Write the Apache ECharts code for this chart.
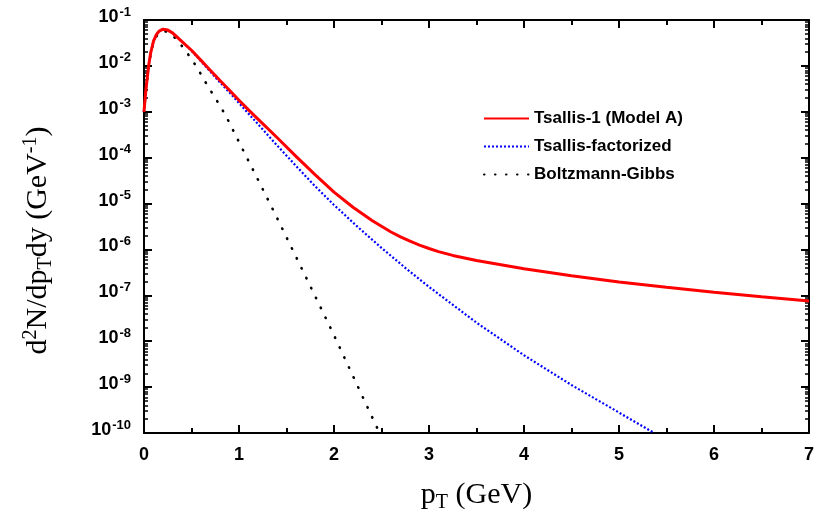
<!DOCTYPE html>
<html>
<head>
<meta charset="utf-8">
<script src="https://cdn.jsdelivr.net/npm/echarts@6/dist/echarts.min.js"></script>
<style>
html,body{margin:0;padding:0;background:#fff;}
#main{width:817px;height:520px;}
</style>
</head>
<body>
<div id="main"></div>
<script>
// pT (GeV) and d2N/dpTdy values
var ptRed = [0, 0.01, 0.02, 0.03, 0.05, 0.07, 0.1, 0.13, 0.16, 0.2, 0.25, 0.3, 0.4, 0.5, 0.6, 0.7, 0.8, 0.9, 1.0, 1.1, 1.2, 1.4, 1.6, 1.8, 2.0, 2.2, 2.4, 2.6, 2.7, 2.8, 2.9, 3.0, 3.1, 3.25, 3.5, 4.0, 4.5, 5.0, 5.5, 6.0, 6.5, 7.0];
var tsallis1 = [1.0e-3, 1.78e-3, 3.02e-3, 4.57e-3, 1.05e-2, 1.91e-2, 3.47e-2, 4.79e-2, 5.75e-2, 6.31e-2, 6.03e-2, 5.25e-2, 3.39e-2, 2.19e-2, 1.32e-2, 7.94e-3, 4.79e-3, 2.95e-3, 1.78e-3, 1.10e-3, 6.92e-4, 2.75e-4, 1.07e-4, 4.27e-5, 1.78e-5, 8.32e-6, 4.27e-6, 2.40e-6, 1.88e-6, 1.51e-6, 1.24e-6, 1.05e-6, 8.97e-7, 7.41e-7, 5.75e-7, 3.80e-7, 2.66e-7, 1.95e-7, 1.50e-7, 1.17e-7, 9.33e-8, 7.50e-8];

var ptBlue = [0, 0.01, 0.02, 0.03, 0.05, 0.07, 0.1, 0.13, 0.16, 0.2, 0.25, 0.3, 0.4, 0.5, 0.6, 0.7, 0.8, 0.9, 1.0, 1.2, 1.4, 1.6, 1.8, 2.0, 2.25, 2.5, 2.75, 3.0, 3.5, 4.0, 4.5, 5.0, 5.37];
var tsallisFact = [1.0e-3, 1.78e-3, 3.02e-3, 4.57e-3, 1.05e-2, 1.91e-2, 3.47e-2, 4.79e-2, 5.75e-2, 6.31e-2, 6.03e-2, 5.25e-2, 3.39e-2, 2.14e-2, 1.26e-2, 7.41e-3, 4.37e-3, 2.63e-3, 1.55e-3, 5.37e-4, 1.86e-4, 6.61e-5, 2.40e-5, 9.33e-6, 3.09e-6, 1.08e-6, 3.98e-7, 1.53e-7, 2.54e-8, 4.95e-9, 1.11e-9, 2.79e-10, 1.0e-10];

var ptBlack = [0, 0.01, 0.02, 0.03, 0.05, 0.07, 0.1, 0.13, 0.16, 0.2, 0.25, 0.3, 0.37, 0.44, 0.5, 0.56, 0.62, 0.68, 0.75, 0.86, 1.0, 1.2, 1.4, 1.6, 1.8, 2.0, 2.2, 2.4, 2.48];
var boltzmann = [1.0e-3, 1.70e-3, 2.82e-3, 4.27e-3, 9.77e-3, 1.78e-2, 3.16e-2, 4.37e-2, 5.25e-2, 5.75e-2, 5.50e-2, 4.68e-2, 3.24e-2, 2.09e-2, 1.41e-2, 9.12e-3, 5.50e-3, 3.39e-3, 2.00e-3, 8.32e-4, 2.19e-4, 3.31e-5, 4.90e-6, 6.92e-7, 9.77e-8, 1.35e-8, 1.74e-9, 2.24e-10, 1.0e-10];

var names = ['Tsallis-1 (Model A)', 'Tsallis-factorized', 'Boltzmann-Gibbs'];

function pairs(xs, ys) {
    return xs.map(function (x, i) { return [x, ys[i]]; });
}

var chart = echarts.init(document.getElementById('main'));

var tickLabel = { fontFamily: 'Liberation Sans', fontWeight: 'bold', fontSize: 18, color: '#000' };
var frameLine = { show: true, onZero: false, lineStyle: { color: '#000', width: 2 } };
var serif = { fontFamily: 'Liberation Serif', color: '#000' };

var option = {
    animation: false,
    backgroundColor: '#fff',
    grid: { left: 144, right: 6, top: 20, bottom: 87 },
    legend: {
        data: names,
        orient: 'vertical',
        left: 483,
        top: 110,
        padding: 0,
        itemWidth: 45,
        itemHeight: 14,
        itemGap: 11,
        itemStyle: { opacity: 0 },
        textStyle: { fontFamily: 'Liberation Sans', fontWeight: 'bold', fontSize: 17, color: '#000' }
    },
    xAxis: [
        {
            type: 'value', min: 0, max: 7, interval: 1,
            name: '{a|p}{sub|T}{a| (GeV)}',
            nameLocation: 'middle', nameGap: 44,
            nameTextStyle: {
                rich: {
                    a: Object.assign({ fontSize: 30 }, serif),
                    sub: Object.assign({ fontSize: 20, padding: [16, 0, 0, 0] }, serif)
                }
            },
            axisLine: frameLine,
            axisTick: { inside: true, length: 8, lineStyle: { width: 2, color: '#000' } },
            minorTick: { show: true, splitNumber: 2, length: 5, lineStyle: { width: 2, color: '#000' } },
            axisLabel: Object.assign({ margin: 13 }, tickLabel),
            splitLine: { show: false }
        },
        {
            type: 'value', min: 0, max: 7, interval: 1, position: 'top',
            axisLine: frameLine,
            axisTick: { inside: true, length: 8, lineStyle: { width: 2, color: '#000' } },
            minorTick: { show: true, splitNumber: 2, length: 5, lineStyle: { width: 2, color: '#000' } },
            axisLabel: { show: false },
            splitLine: { show: false }
        }
    ],
    yAxis: [
        {
            type: 'log', logBase: 10, min: 1e-10, max: 1e-1, splitNumber: 9,
            name: '{a|d}{sup|2}{a|N/dp}{sub|T}{a|dy (GeV}{sup|-1}{a|)}',
            nameLocation: 'middle', nameGap: 88,
            nameTextStyle: {
                padding: [0, 28, 0, 0],
                rich: {
                    a: Object.assign({ fontSize: 30 }, serif),
                    sup: Object.assign({ fontSize: 20, padding: [0, 0, 14, 0] }, serif),
                    sub: Object.assign({ fontSize: 20, padding: [16, 0, 0, 0] }, serif)
                }
            },
            axisLine: frameLine,
            axisTick: { inside: true, length: 8, lineStyle: { width: 2, color: '#000' } },
            minorTick: { show: true, splitNumber: 9, length: 4, lineStyle: { width: 1.5, color: '#000' } },
            axisLabel: {
                margin: 13,
                formatter: function (v) {
                    return '{b|10}{s|' + Math.round(Math.log10(v)) + '}';
                },
                rich: {
                    b: Object.assign({ padding: [0, 0, 6, 0] }, tickLabel),
                    s: { fontFamily: 'Liberation Sans', fontWeight: 'bold', fontSize: 13, color: '#000', padding: [0, 0, 16, 1] }
                }
            },
            splitLine: { show: false }
        },
        {
            type: 'log', logBase: 10, min: 1e-10, max: 1e-1, splitNumber: 9, position: 'right',
            axisLine: frameLine,
            axisTick: { inside: true, length: 8, lineStyle: { width: 2, color: '#000' } },
            minorTick: { show: true, splitNumber: 9, length: 4, lineStyle: { width: 1.5, color: '#000' } },
            axisLabel: { show: false },
            splitLine: { show: false }
        }
    ],
    series: [
        {
            name: names[2], type: 'line', symbol: 'none',
            data: pairs(ptBlack, boltzmann),
            itemStyle: { color: '#000' },
            lineStyle: { color: '#000', width: 2.6, type: [0.5, 10.5], cap: 'round' }
        },
        {
            name: names[1], type: 'line', symbol: 'none',
            data: pairs(ptBlue, tsallisFact),
            itemStyle: { color: '#0000ff' },
            lineStyle: { color: '#0000ff', width: 2.2, type: [2, 2] }
        },
        {
            name: names[0], type: 'line', symbol: 'none',
            data: pairs(ptRed, tsallis1),
            itemStyle: { color: '#ff0000' },
            lineStyle: { color: '#ff0000', width: 3 }
        }
    ]
};
chart.setOption(option);
</script>
</body>
</html>
